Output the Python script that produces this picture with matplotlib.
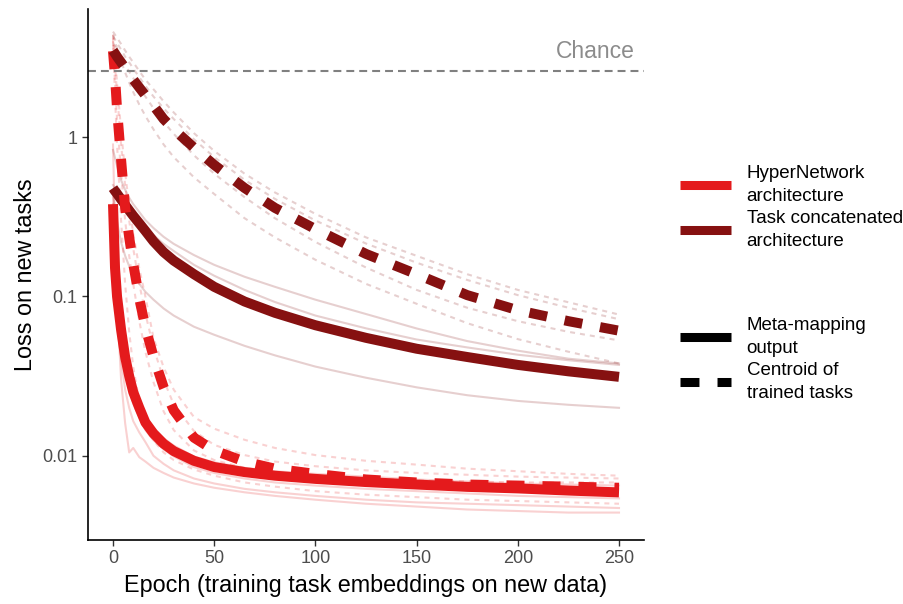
import matplotlib
matplotlib.use("Agg")
import matplotlib.pyplot as plt
from matplotlib.lines import Line2D

plt.rcParams['font.family'] = ['Liberation Sans', 'DejaVu Sans']

# epochs at which the losses were logged
epochs = [0, 1, 2, 4, 6, 8, 10, 13, 16, 20, 25, 30, 40, 50, 65, 80, 100, 125, 150, 175, 200, 225, 250]

# mean curves
hyper_meta = [0.38, 0.151, 0.1, 0.0617, 0.0417, 0.0316, 0.0251, 0.02, 0.0162, 0.0138, 0.0119, 0.0107, 0.0093,
              0.0085, 0.0079, 0.0075, 0.00716, 0.00684, 0.0066, 0.00638, 0.00624, 0.00605, 0.00589]
hyper_cent = [3.47, 2.4, 1.5, 0.72, 0.36, 0.235, 0.16, 0.097, 0.064, 0.042, 0.027, 0.0193, 0.0130,
              0.0108, 0.0092, 0.0083, 0.0077, 0.0071, 0.0068, 0.0066, 0.0065, 0.0064, 0.0063]
concat_meta = [0.479, 0.459, 0.442, 0.407, 0.376, 0.347, 0.321, 0.288, 0.258, 0.222, 0.19, 0.168, 0.138,
               0.115, 0.093, 0.079, 0.066, 0.055, 0.047, 0.0417, 0.0372, 0.0339, 0.0313]
concat_cent = [3.5, 3.35, 3.2, 2.95, 2.72, 2.5, 2.3, 2.05, 1.83, 1.58, 1.3, 1.12, 0.86,
               0.67, 0.48, 0.36, 0.265, 0.185, 0.138, 0.102, 0.082, 0.07, 0.061]

# individual runs
hyper_meta_runs = [
    [0.9, 0.25, 0.09, 0.03, 0.016, 0.0105, 0.0112, 0.0098, 0.0092, 0.0084, 0.0078, 0.0073, 0.0067,
     0.0063, 0.0059, 0.0056, 0.0053, 0.0050, 0.0048, 0.0046, 0.0045, 0.0044, 0.0044],
    [0.35, 0.12, 0.07, 0.04, 0.026, 0.02, 0.0165, 0.014, 0.0122, 0.0100, 0.0089, 0.0081, 0.0072,
     0.0067, 0.0062, 0.0059, 0.0056, 0.0053, 0.0051, 0.0050, 0.0049, 0.0048, 0.0047],
    [0.42, 0.18, 0.12, 0.07, 0.046, 0.034, 0.027, 0.0215, 0.0178, 0.015, 0.0129, 0.0116, 0.0099,
     0.0091, 0.0084, 0.0080, 0.0077, 0.0074, 0.0071, 0.0069, 0.0067, 0.0066, 0.0065],
    [0.38, 0.14, 0.09, 0.055, 0.036, 0.026, 0.0212, 0.0175, 0.0145, 0.0125, 0.011, 0.0099, 0.0085,
     0.0078, 0.0072, 0.0068, 0.0065, 0.0062, 0.0060, 0.0058, 0.0056, 0.0055, 0.0054],
]
hyper_cent_runs = [
    [4.4, 3.2, 2.2, 1.1, 0.6, 0.37, 0.25, 0.15, 0.1, 0.055, 0.036, 0.026, 0.0175,
     0.0148, 0.0126, 0.0112, 0.0101, 0.0093, 0.0088, 0.0083, 0.0080, 0.0077, 0.0075],
    [4.0, 2.8, 1.9, 0.9, 0.5, 0.3, 0.2, 0.12, 0.078, 0.048, 0.03, 0.021, 0.0143,
     0.0117, 0.0101, 0.0092, 0.0086, 0.0081, 0.0078, 0.0076, 0.0074, 0.0073, 0.0072],
    [3.8, 2.2, 1.3, 0.6, 0.3, 0.18, 0.12, 0.07, 0.045, 0.029, 0.019, 0.0145, 0.0108,
     0.0094, 0.0084, 0.0079, 0.0075, 0.0072, 0.0070, 0.0069, 0.0068, 0.0068, 0.0068],
    [4.2, 1.8, 0.9, 0.3, 0.12, 0.06, 0.036, 0.022, 0.016, 0.0125, 0.0105, 0.0094, 0.0082,
     0.0075, 0.0068, 0.0064, 0.0060, 0.0057, 0.0055, 0.0053, 0.0052, 0.0051, 0.0050],
]
concat_meta_runs = [
    [0.832, 0.741, 0.661, 0.537, 0.468, 0.417, 0.38, 0.339, 0.302, 0.269, 0.237, 0.214, 0.182,
     0.158, 0.133, 0.115, 0.0955, 0.0776, 0.063, 0.0525, 0.0457, 0.0407, 0.038],
    [0.501, 0.479, 0.457, 0.417, 0.385, 0.355, 0.331, 0.299, 0.272, 0.243, 0.214, 0.193, 0.158,
     0.135, 0.11, 0.0923, 0.0759, 0.0631, 0.0537, 0.0479, 0.0431, 0.0398, 0.0372],
    [0.447, 0.355, 0.295, 0.219, 0.18, 0.155, 0.138, 0.12, 0.107, 0.0955, 0.0841, 0.0759, 0.0646,
     0.0575, 0.049, 0.0427, 0.0363, 0.0309, 0.0269, 0.024, 0.0221, 0.0209, 0.02],
]
concat_cent_runs = [
    [4.6, 4.4, 4.2, 3.85, 3.5, 3.2, 2.95, 2.6, 2.3, 2.0, 1.68, 1.43, 1.06,
     0.82, 0.59, 0.45, 0.33, 0.235, 0.18, 0.138, 0.11, 0.092, 0.077],
    [4.3, 4.1, 3.9, 3.55, 3.2, 2.95, 2.7, 2.38, 2.1, 1.8, 1.52, 1.3, 0.97,
     0.75, 0.54, 0.41, 0.30, 0.215, 0.163, 0.127, 0.102, 0.085, 0.072],
    [3.9, 3.7, 3.5, 3.15, 2.85, 2.58, 2.35, 2.05, 1.8, 1.52, 1.25, 1.05, 0.77,
     0.59, 0.42, 0.31, 0.22, 0.152, 0.11, 0.085, 0.07, 0.06, 0.053],
    [4.4, 4.0, 3.6, 3.0, 2.55, 2.2, 1.92, 1.6, 1.36, 1.12, 0.9, 0.75, 0.56,
     0.44, 0.31, 0.235, 0.17, 0.12, 0.09, 0.068, 0.054, 0.045, 0.038],
]

chance = 2.6

red = '#E41A1C'
darkred = '#861111'
dash_main = (0, (1.8, 1.8))
dash_thin = (0, (2.4, 2.4))

fig = plt.figure(figsize=(9.04, 6.04), dpi=100)
ax = fig.add_axes([87.7/904, 1 - 540/604, (644.3 - 87.7)/904, 531/604])

# faint per-run curves
for run in concat_meta_runs:
    ax.plot(epochs, run, color=darkred, alpha=0.2, lw=1.5)
for run in concat_cent_runs:
    ax.plot(epochs, run, color=darkred, alpha=0.2, lw=1.5, ls=dash_thin, dash_capstyle='butt')
for run in hyper_meta_runs:
    ax.plot(epochs, run, color=red, alpha=0.2, lw=1.5)
for run in hyper_cent_runs:
    ax.plot(epochs, run, color=red, alpha=0.2, lw=1.5, ls=dash_thin, dash_capstyle='butt')

# mean curves
ax.plot(epochs, hyper_meta, color=red, lw=7.2, solid_capstyle='butt', solid_joinstyle='round')
ax.plot(epochs, concat_meta, color=darkred, lw=7.2, solid_capstyle='butt', solid_joinstyle='round')
ax.plot(epochs, hyper_cent, color=red, lw=7.2, ls=dash_main, dash_capstyle='butt')
ax.plot(epochs, concat_cent, color=darkred, lw=7.2, ls=dash_main, dash_capstyle='butt')

ax.axhline(chance, color='#808080', lw=1.5, ls=(0, (3.8, 2.4)))
ax.text(258, 3.14, 'Chance', color='#8c8c8c', fontsize=16.5, ha='right', va='baseline')

ax.set_yscale('log')
ax.set_xlim(-12.5, 262.5)
ax.set_ylim(0.00296, 6.38)
ax.set_xticks([0, 50, 100, 150, 200, 250])
ax.set_yticks([1, 0.1, 0.01])
ax.set_yticklabels(['1', '0.1', '0.01'])
ax.minorticks_off()
ax.tick_params(labelsize=13, labelcolor='#4d4d4d', color='#333333', length=4, width=1)
for s in ['top', 'right']:
    ax.spines[s].set_visible(False)
for s in ['left', 'bottom']:
    ax.spines[s].set_linewidth(1.2)
ax.set_xlabel('Epoch (training task embeddings on new data)', fontsize=16.8, labelpad=5)
ax.set_ylabel('Loss on new tasks', fontsize=16.8, labelpad=4)

# legends
legend_kw = dict(loc='upper left', frameon=False, fontsize=13.5, handlelength=2.7,
                 handletextpad=0.85, labelspacing=0.3, borderpad=0, borderaxespad=0)
arch = [Line2D([], [], color=red, lw=6.5, solid_capstyle='butt'),
        Line2D([], [], color=darkred, lw=6.5, solid_capstyle='butt')]
leg1 = fig.legend(arch, ['HyperNetwork\narchitecture', 'Task concatenated\narchitecture'],
                  bbox_to_anchor=(680/904, 1 - 165/604), **legend_kw)
kind = [Line2D([], [], color='black', lw=6.5, solid_capstyle='butt'),
        Line2D([], [], color='black', lw=6.5, ls=(0, (2.1, 2.0)), dash_capstyle='butt')]
leg2 = fig.legend(kind, ['Meta-mapping\noutput', 'Centroid of\ntrained tasks'],
                  bbox_to_anchor=(680/904, 1 - 317/604), **legend_kw)
for leg in (leg1, leg2):
    for t in leg.get_texts():
        t.set_linespacing(1.45)

fig.savefig('out.png', dpi=100)
